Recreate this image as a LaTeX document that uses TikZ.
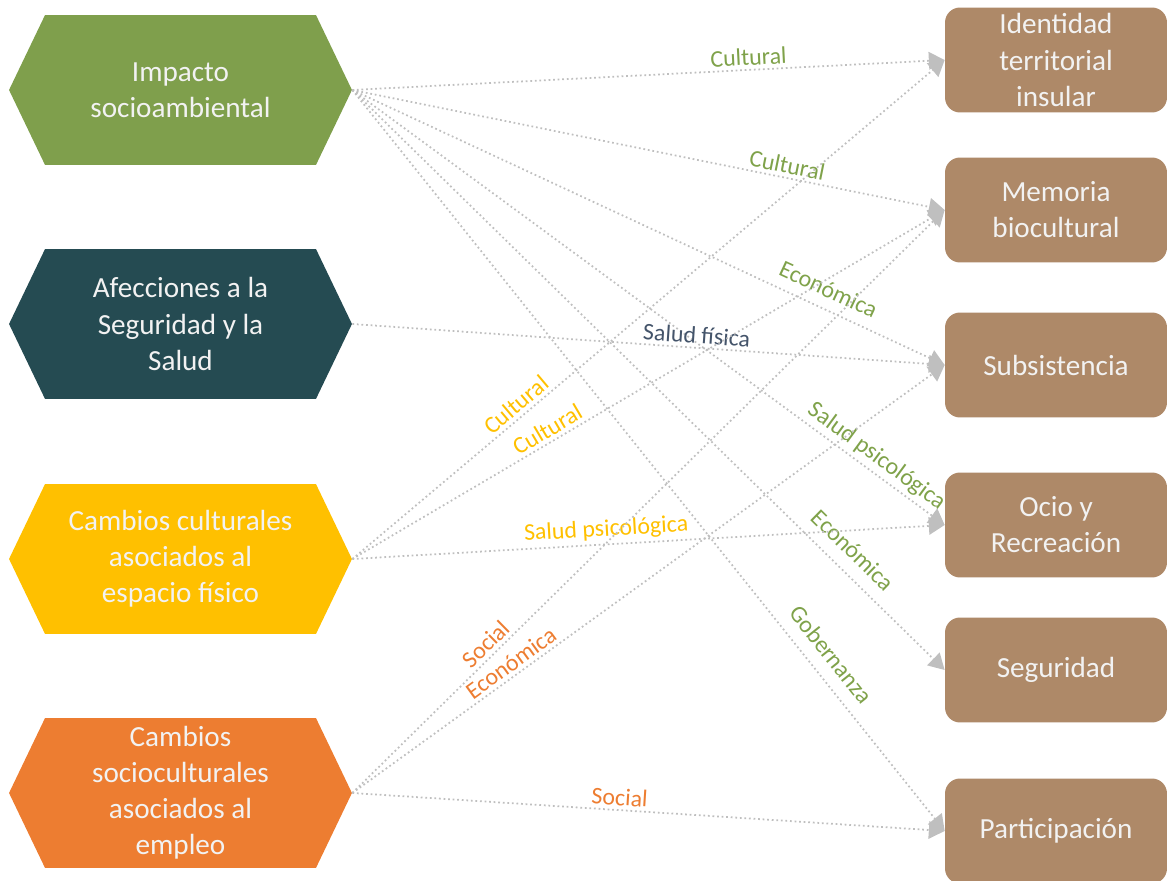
\documentclass[tikz,border=0pt]{standalone}
\usepackage{fontspec}
\setmainfont{Carlito}
\usetikzlibrary{shapes.symbols,arrows.meta}
\definecolor{verde}{HTML}{7F9F4C}
\definecolor{verdetxt}{HTML}{7FA24A}
\definecolor{petroleo}{HTML}{254B52}
\definecolor{amarillo}{HTML}{FFC000}
\definecolor{naranja}{HTML}{ED7D31}
\definecolor{cafe}{HTML}{AE8968}
\definecolor{gris}{HTML}{BFBFBF}
\definecolor{pizarra}{HTML}{44546A}
\definecolor{blanco}{HTML}{F2F2F2}
\begin{document}
\begin{tikzpicture}[x=0.02cm, y=-0.02cm,
        hexa/.style={signal, signal to=east and west, signal pointer angle=128.7,
            minimum width=6.86cm, minimum height=3cm, inner sep=0pt,
            text=blanco, align=center, font=\fontsize{16.6}{20.5}\selectfont},
        caja/.style={rectangle, rounded corners=0.3cm, fill=cafe,
            minimum width=4.44cm, minimum height=2.1cm, inner sep=0pt,
            text=blanco, align=center, font=\fontsize{16.6}{20.5}\selectfont},
        flecha/.style={gris, line width=1pt, dash pattern=on 1pt off 1.6pt,
            -{Triangle[length=9pt,width=10pt]}},
        etiq/.style={sloped, above, inner sep=2pt, font=\fontsize{13.6}{16}\selectfont}]
\useasboundingbox (0,0) rectangle (1167,881);

% izquierda
\node[hexa, fill=verde] (impacto) at (180.5,90) {Impacto\\socioambiental};
\node[hexa, fill=petroleo] (afecc) at (180.5,324) {Afecciones a la\\Seguridad y la\\Salud};
\node[hexa, fill=amarillo] (cultur) at (180.5,559) {Cambios culturales\\asociados al\\espacio físico};
\node[hexa, fill=naranja] (empleo) at (180.5,793) {Cambios\\socioculturales\\asociados al\\empleo};

% derecha
\node[caja] (identidad) at (1056,60) {Identidad\\territorial\\insular};
\node[caja] (memoria) at (1056,210) {Memoria\\biocultural};
\node[caja] (subsist) at (1056,365) {Subsistencia};
\node[caja] (ocio) at (1056,525) {Ocio y\\Recreación};
\node[caja] (segur) at (1056,670) {Seguridad};
\node[caja] (partic) at (1056,831) {Participación};

\draw[flecha] (impacto.east) -- (identidad.west) node[etiq, pos=0.67, text=verdetxt] {Cultural};
\draw[flecha] (impacto.east) -- (memoria.west) node[etiq, pos=0.73, text=verdetxt] {Cultural};
\draw[flecha] (impacto.east) -- (subsist.west) node[etiq, above=4pt, pos=0.79, text=verdetxt] {Económica};
\draw[flecha] (impacto.east) -- (ocio.west) node[etiq, pos=0.87, text=verdetxt] {Salud psicológica};
\draw[flecha] (impacto.east) -- (segur.west) node[etiq, above=5pt, pos=0.82, text=verdetxt] {Económica};
\draw[flecha] (impacto.east) -- (partic.west) node[etiq, above=5pt, pos=0.78, text=verdetxt] {Gobernanza};

\draw[flecha] (afecc.east) -- (subsist.west) node[etiq, pos=0.58, text=pizarra] {Salud física};

\draw[flecha] (cultur.east) -- (identidad.west) node[etiq, pos=0.29, text=amarillo] {Cultural};
\draw[flecha] (cultur.east) -- (memoria.west) node[etiq, pos=0.34, text=amarillo] {Cultural};
\draw[flecha] (cultur.east) -- (ocio.west) node[etiq, pos=0.43, text=amarillo] {Salud psicológica};

\draw[flecha] (empleo.east) -- (memoria.west) node[etiq, pos=0.24, text=naranja] {Social};
\draw[flecha] (empleo.east) -- (subsist.west) node[etiq, pos=0.28, text=naranja] {Económica};
\draw[flecha] (empleo.east) -- (partic.west) node[etiq, pos=0.45, text=naranja] {Social};

\end{tikzpicture}
\end{document}
